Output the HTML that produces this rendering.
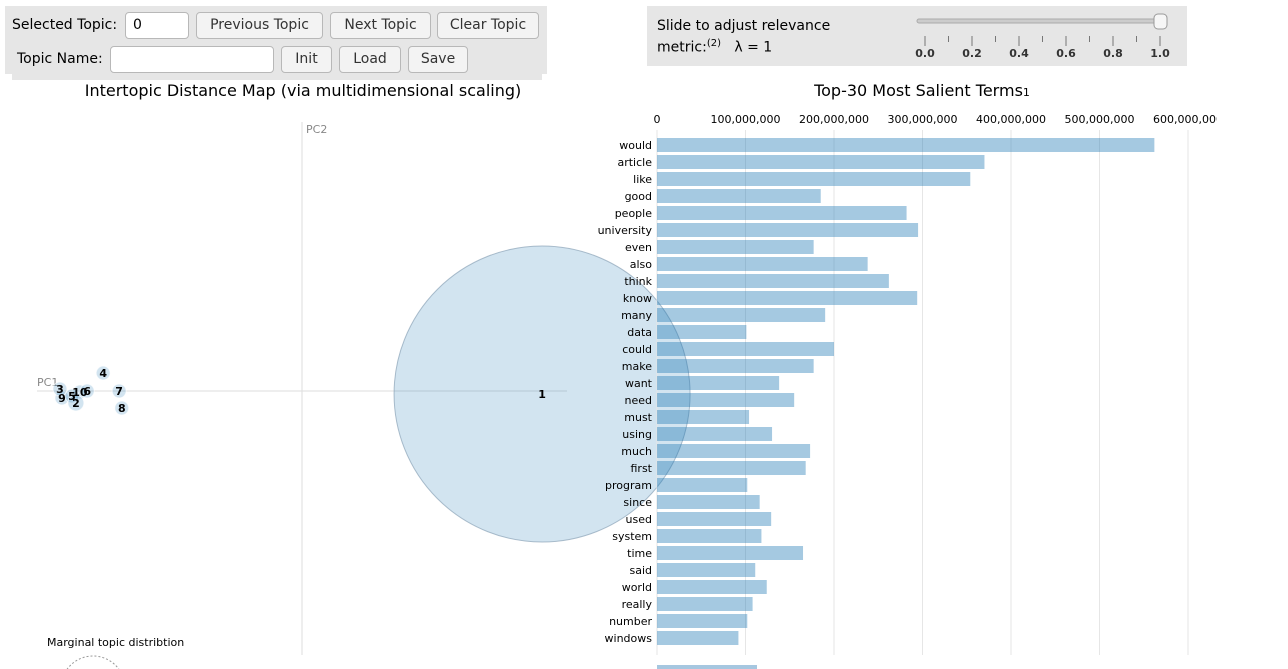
<!DOCTYPE html>
<html><head><meta charset="utf-8"><style>
html,body{margin:0;width:1288px;height:669px;overflow:hidden}
body{background:#fff;font-family:"DejaVu Sans","Liberation Sans",sans-serif;position:relative}
.p{position:absolute}
.btn{position:absolute;background:#f3f3f3;border:1px solid #b8b8b8;border-radius:4px;font-size:14px;color:#333;text-align:center;box-sizing:border-box}
.inp{position:absolute;background:#fff;border:1px solid #b8b8b8;border-radius:4px;box-sizing:border-box;font-size:14px;padding-left:7px}
</style></head><body>
<div class="p" style="left:5px;top:6px;width:542px;height:68px;background:#e6e6e6"></div>
<div class="p" style="left:12px;top:66px;width:530px;height:14px;background:#e6e6e6"></div>
<div class="p" style="left:12px;top:17px;font-size:14px">Selected Topic:</div>
<div class="inp" style="left:125px;top:12px;width:64px;height:27px;line-height:25px">0</div>
<div class="btn" style="left:196px;top:12px;width:127px;height:27px;line-height:25px">Previous Topic</div>
<div class="btn" style="left:330px;top:12px;width:101px;height:27px;line-height:25px">Next Topic</div>
<div class="btn" style="left:437px;top:12px;width:102px;height:27px;line-height:25px">Clear Topic</div>
<div class="p" style="left:17px;top:51px;font-size:14px">Topic Name:</div>
<div class="inp" style="left:110px;top:46px;width:164px;height:27px"></div>
<div class="btn" style="left:281px;top:46px;width:51px;height:27px;line-height:25px">Init</div>
<div class="btn" style="left:339px;top:46px;width:62px;height:27px;line-height:25px">Load</div>
<div class="btn" style="left:408px;top:46px;width:60px;height:27px;line-height:25px">Save</div>

<div class="p" style="left:647px;top:6px;width:540px;height:60px;background:#e6e6e6"></div>
<div class="p" style="left:657px;top:17px;font-size:14px;line-height:18px">Slide to adjust relevance<br>metric:<sup style="font-size:10px">(2)</sup>&nbsp;&nbsp; λ = 1</div>
<svg class="p" style="left:0;top:0" width="1288" height="669">
<defs><clipPath id="cl"><rect x="0" y="0" width="1217" height="669"/></clipPath></defs>
<rect x="917" y="19" width="250" height="4" rx="2" fill="#ccc" stroke="#aaa"/>
<rect x="1154" y="14" width="13" height="15" rx="4" fill="#f6f6f6" stroke="#999"/>
<g id="sticks" font-size="11" font-weight="bold" fill="#333" font-family="DejaVu Sans, sans-serif"></g>
<text x="303" y="96" font-size="16" text-anchor="middle" fill="#000">Intertopic Distance Map (via multidimensional scaling)</text>
<text x="922" y="96" font-size="16" text-anchor="middle" fill="#000">Top-30 Most Salient Terms<tspan font-size="11">1</tspan></text>
<line x1="302" y1="122" x2="302" y2="655" stroke="#ddd"/>
<line x1="37" y1="391" x2="567" y2="391" stroke="#ddd"/>
<text x="306" y="133" font-size="11" fill="#888">PC2</text>
<text x="37" y="386" font-size="11" fill="#888">PC1</text>
<g id="bubbles"></g>
<g id="bars" clip-path="url(#cl)"></g>
<text x="47" y="646" font-size="11" fill="#000">Marginal topic distribtion</text>
<circle cx="93" cy="688" r="32" fill="none" stroke="#999" stroke-dasharray="2,2"/>
<rect x="657" y="665" width="100" height="10" fill="#a6c7e0"/>
</svg>
<script>
const ns="http://www.w3.org/2000/svg";
function mk(t,a,p){const e=document.createElementNS(ns,t);for(const k in a)e.setAttribute(k,a[k]);p.appendChild(e);return e;}
const sliderTicks=[0,0.1,0.2,0.3,0.4,0.5,0.6,0.7,0.8,0.9,1.0];
const sg=document.getElementById('sticks');
sliderTicks.forEach((v,i)=>{const x=925+v*235;
 const l=mk('line',{x1:x,y1:36,x2:x,y2:i%2?42:46,stroke:'#777'},sg);
 
 
 if(i%2==0){const t=mk('text',{x:x,y:57,'text-anchor':'middle'},sg);t.textContent=v.toFixed(1);
 
 }});
const topicIds=[1,2,3,4,5,6,7,8,9,10];
const topicPC1=[0.361,-0.340,-0.364,-0.299,-0.346,-0.323,-0.275,-0.271,-0.361,-0.334];
const topicPC2=[-0.0045,-0.018,0.003,0.027,-0.0075,0.0,0.0,-0.0256,-0.0105,-0.0015];
const topicRadius=[148,8,7,7,7,7,7,7,7,7];
const X=v=>302+v*665, Y=v=>391-v*665;
const bg=document.getElementById('bubbles');
[...topicIds.keys()].reverse().forEach(i=>{
 const c=mk('circle',{cx:X(topicPC1[i]),cy:Y(topicPC2[i]),r:topicRadius[i],fill:'#1f77b4','fill-opacity':0.2,stroke:i==0?'#8aa2b6':'#fff','stroke-opacity':0.7},bg);
 
 
});
topicIds.forEach((id,i)=>{
 const t=mk('text',{x:X(topicPC1[i]),y:Y(topicPC2[i])+4,'text-anchor':'middle','font-size':11,'font-weight':'bold',fill:'#000'},bg);
 t.textContent=id;
 
 
});
const terms=["would","article","like","good","people","university","even","also","think","know","many","data","could","make","want","need","must","using","much","first","program","since","used","system","time","said","world","really","number","windows"];
const freqs=[562,370,354,185,282,295,177,238,262,294,190,101,200,177,138,155,104,130,173,168,102,116,129,118,165,111,124,108,102,92];
const xTicks=[0,100,200,300,400,500,600];
const xTickLabels=["0","100,000,000","200,000,000","300,000,000","400,000,000","500,000,000","600,000,000"];
const BX=v=>657+v*0.885;
const gb=document.getElementById('bars');
xTicks.forEach((v,i)=>{
 const l=mk('line',{x1:BX(v),y1:130,x2:BX(v),y2:655,stroke:'#e6e6e6'},gb);
 
 
 const t=mk('text',{x:BX(v),y:123,'text-anchor':'middle','font-size':11,fill:'#000'},gb);t.textContent=xTickLabels[i];
 
 
});
terms.forEach((w,i)=>{const y=138+i*17;
 const r=mk('rect',{x:657,y:y,width:BX(freqs[i])-657,height:14,fill:'#1f77b4','fill-opacity':0.4},gb);
 
 
 const t=mk('text',{x:652,y:y+11,'text-anchor':'end','font-size':11,fill:'#000'},gb);t.textContent=w;
 
 
});
</script>
</body></html>
